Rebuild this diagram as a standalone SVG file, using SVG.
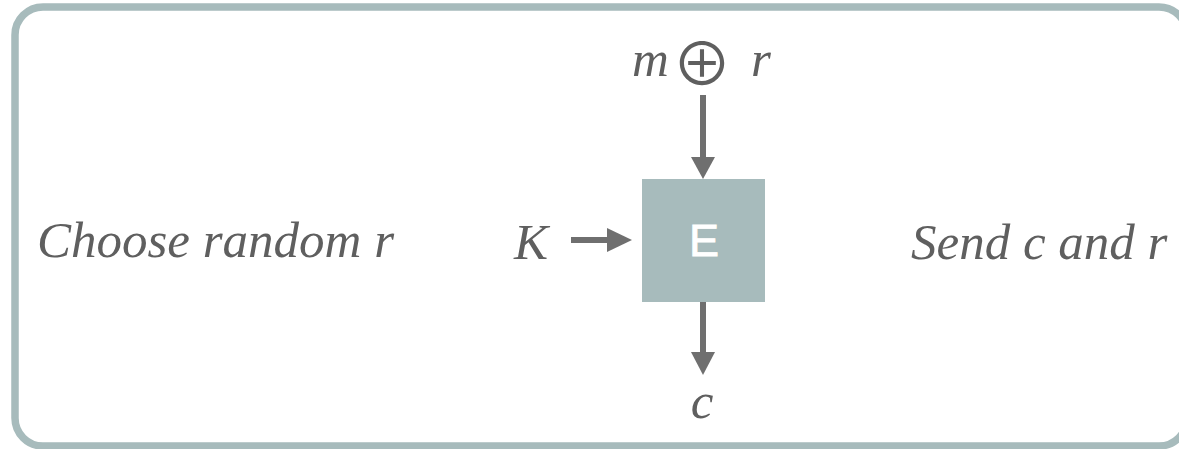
<svg xmlns="http://www.w3.org/2000/svg" width="1179" height="449" viewBox="0 0 1179 449">
  <style>
    .lbl { font-family: "Liberation Serif", "DejaVu Serif", serif; font-style: italic; font-size: 51px; fill: #5f5f5f; }
    .sym { font-family: "Noto Sans CJK SC", "DejaVu Sans", sans-serif; font-size: 60px; fill: #5f5f5f; }
    .conn { stroke: #6f6f6f; stroke-width: 6; fill: none; }
    .head { fill: #6f6f6f; }
  </style>
  <rect width="1179" height="449" fill="#ffffff"/>
  <g id="frame">
    <rect x="15" y="7" width="1172" height="439" rx="28" ry="28" fill="none" stroke="#a7bbbc" stroke-width="7.5"/>
  </g>
  <g id="choose">
    <text class="lbl" x="37" y="257">Choose random r</text>
  </g>
  <g id="send">
    <text class="lbl" x="911" y="259">Send c and r</text>
  </g>
  <g id="input-mr">
    <text class="lbl" x="632" y="76">m</text>
    <text class="sym" x="702" y="86" text-anchor="middle">⊕</text>
    <text class="lbl" x="751" y="76">r</text>
  </g>
  <g id="input-k">
    <text class="lbl" x="514" y="259">K</text>
  </g>
  <g id="encrypt">
    <rect x="642" y="179" width="123" height="123" fill="#a7bbbc"/>
    <text x="704" y="256" text-anchor="middle" font-family="Liberation Sans, Arial, sans-serif" font-size="45" fill="#ffffff" stroke="#ffffff" stroke-width="0.8">E</text>
  </g>
  <g id="output-c">
    <text class="lbl" x="702" y="418" text-anchor="middle">c</text>
  </g>
  <g id="connectors">
    <line class="conn" x1="703" y1="95" x2="703" y2="159"/>
    <polygon class="head" points="691,157 715,157 703,179"/>
    <line class="conn" x1="571" y1="240" x2="609" y2="240"/>
    <polygon class="head" points="607,228 607,252 632,240"/>
    <line class="conn" x1="703" y1="302" x2="703" y2="354"/>
    <polygon class="head" points="691,352 715,352 703,375"/>
  </g>
</svg>
